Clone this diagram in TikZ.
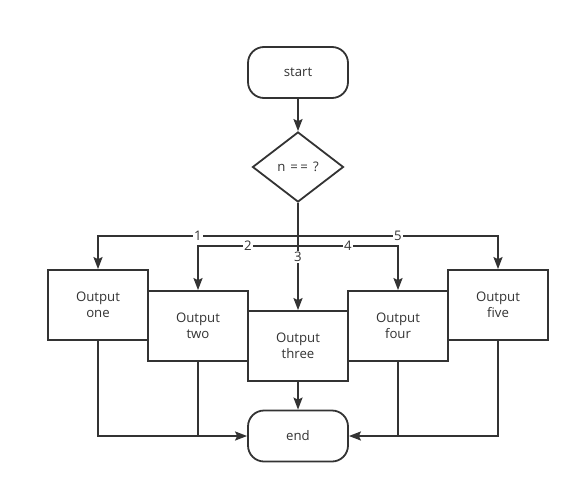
\documentclass[tikz,border=0pt]{standalone}
\usepackage{fontspec}
\setmainfont{Open Sans}
\usetikzlibrary{shapes.geometric,arrows.meta}
\definecolor{ink}{HTML}{333333}
\begin{document}
\begin{tikzpicture}[x=1pt,y=1pt,
  every node/.style={text=ink, font=\fontsize{13.2}{16}\selectfont},
  term/.style={draw=ink, line width=1.8pt, rounded corners=16pt, minimum width=100pt, minimum height=51pt, inner sep=0pt},
  dec/.style={draw=ink, line width=1.8pt, diamond, minimum width=91pt, minimum height=70pt, inner sep=0pt},
  outbox/.style={draw=ink, line width=1.8pt, fill=white, minimum width=100pt, minimum height=70pt, align=center, inner sep=0pt},
  conn/.style={draw=ink, line width=1.8pt},
  arr/.style={conn, -{Stealth[length=12pt, width=9pt, inset=2pt]}},
  lbl/.style={fill=white, inner sep=1pt, font=\fontsize{13.2}{14}\selectfont}
]
\useasboundingbox (0,0) rectangle (580,-493);
\node[term] (s) at (298,-72.5) {start};
\node[dec] (d) at (298,-167) {n\hspace{5pt}=\hspace{2.5pt}=\hspace{5pt}?};
\node[outbox] (o1) at (98,-305) {Output\\one};
\node[outbox] (o2) at (198,-326) {Output\\two};
\node[outbox] (o4) at (398,-326) {Output\\four};
\node[outbox] (o5) at (498,-305) {Output\\five};
\node[outbox] (o3) at (298,-346) {Output\\three};
\node[term] (e) at (298,-436) {end};
\coordinate (j1) at (298,-236);
\coordinate (j2) at (298,-246);

\draw[arr] (s) -- (d);
\draw[conn] (d.south) -- (j1);
\draw[arr] (j1) -| node[lbl, pos=0.25] {1} (o1.north);
\draw[arr] (j1) -| node[lbl, pos=0.25] {5} (o5.north);
\draw[arr] (j2) -| node[lbl, pos=0.25] {2} (o2.north);
\draw[arr] (j2) -| node[lbl, pos=0.25] {4} (o4.north);
\draw[arr] (j1) -- node[lbl, pos=0.28] {3} (o3.north);

\draw[arr] (o3) -- (e);
\draw[arr] (o1.south) |- (e.west);
\draw[conn] (o2.south) -- (o2.south |- e.west);
\draw[arr] (o5.south) |- (e.east);
\draw[conn] (o4.south) -- (o4.south |- e.east);
\end{tikzpicture}
\end{document}
